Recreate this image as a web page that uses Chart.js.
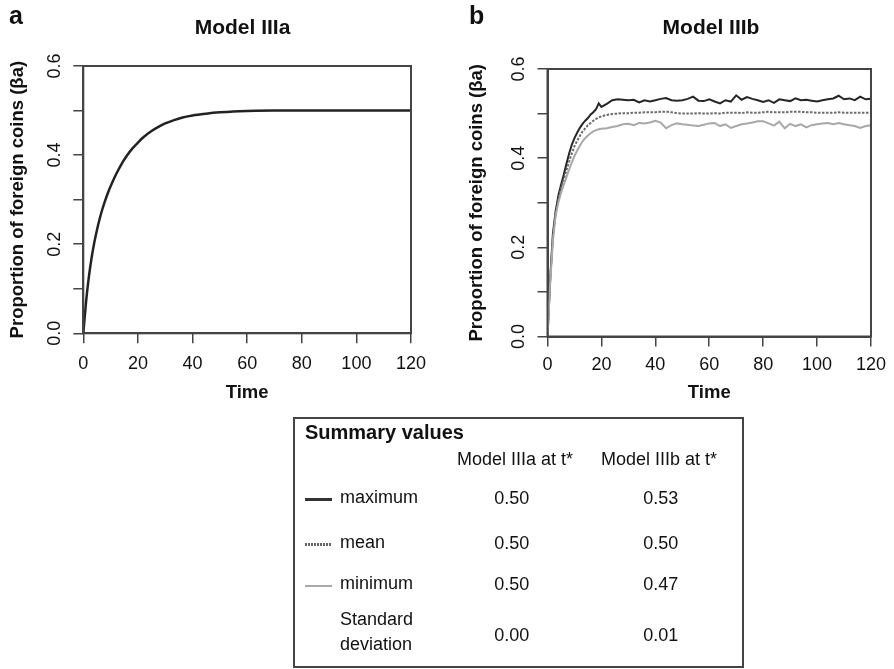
<!DOCTYPE html>
<html>
<head>
<meta charset="utf-8">
<script src="https://cdn.jsdelivr.net/npm/chart.js@4.4.1/dist/chart.umd.min.js"></script>
<style>
  html, body { margin: 0; padding: 0; background: #fff; }
  body { width: 894px; height: 669px; position: relative; overflow: hidden;
         font-family: "Liberation Sans", Arial, Helvetica, sans-serif; color: #111; }
  canvas { position: absolute; top: 0; }
  .t { position: absolute; white-space: nowrap; line-height: 1; }
  .c { transform: translateX(-50%); }
  .b { font-weight: bold; }
  #summary { position: absolute; left: 293px; top: 417px; width: 451px; height: 251px;
             box-sizing: border-box; border: 2px solid #444; }
  .key { position: absolute; left: 305px; width: 27px; }
</style>
</head>
<body>
<canvas id="panelA" width="440" height="420" style="left:0"></canvas>
<canvas id="panelB" width="454" height="420" style="left:440px"></canvas>

<div class="t b" style="left:9px;top:3px;font-size:25px">a</div>
<div class="t b" style="left:469px;top:3px;font-size:25px">b</div>
<div class="t b c" style="left:242.5px;top:16px;font-size:21px">Model IIIa</div>
<div class="t b c" style="left:711px;top:16px;font-size:21px">Model IIIb</div>

<div id="summary"></div>
<div id="summaryText"></div>

<script>
const FONT = '"Liberation Sans", Arial, Helvetica, sans-serif';

// Model IIIa: deterministic approach to equilibrium
const timeA = [0, 1, 2, 3, 4, 5, 6, 7, 8, 9, 10, 12, 14, 16, 18, 20, 22, 25, 28, 30, 33, 36,
               40, 45, 50, 55, 60, 70, 80, 90, 100, 110, 120];
const valuesA = [0, 0.07, 0.125, 0.168, 0.203, 0.232, 0.257, 0.279, 0.298, 0.315, 0.33,
                 0.357, 0.38, 0.399, 0.415, 0.428, 0.44, 0.454, 0.465, 0.471, 0.478, 0.484,
                 0.489, 0.493, 0.496, 0.498, 0.499, 0.5, 0.5, 0.5, 0.5, 0.5, 0.5];

// Model IIIb: stochastic runs, maximum / mean / minimum over replicates
const timeB = [0, 1, 2, 3, 4, 5, 6, 7, 8, 9, 10, 11, 12, 13, 14, 15, 16, 17, 18, 19, 20,
               22, 24, 26, 28, 30, 32, 34, 36, 38, 40, 42, 44, 46, 48, 50, 52, 54, 56, 58, 60,
               62, 64, 66, 68, 70, 72, 74, 76, 78, 80, 82, 84, 86, 88, 90, 92, 94, 96, 98, 100,
               102, 104, 106, 108, 110, 112, 114, 116, 118, 120];
const maxB = [0, 0.13, 0.23, 0.28, 0.315, 0.34, 0.362, 0.387, 0.41, 0.43, 0.445, 0.457, 0.468,
              0.477, 0.484, 0.49, 0.498, 0.503, 0.51, 0.523, 0.515,
              0.522, 0.530, 0.532, 0.531, 0.530, 0.531, 0.525, 0.530, 0.527, 0.530,
              0.533, 0.535, 0.530, 0.529, 0.530, 0.533, 0.538, 0.529, 0.528, 0.532,
              0.527, 0.523, 0.530, 0.527, 0.541, 0.531, 0.537, 0.533, 0.530, 0.526,
              0.530, 0.524, 0.532, 0.530, 0.528, 0.534, 0.530, 0.531, 0.529, 0.527,
              0.530, 0.532, 0.534, 0.540, 0.532, 0.534, 0.530, 0.538, 0.532, 0.533];
const meanB = [0, 0.125, 0.222, 0.275, 0.307, 0.332, 0.352, 0.372, 0.392, 0.41, 0.427, 0.439, 0.45,
               0.46, 0.467, 0.474, 0.479, 0.484, 0.488, 0.491, 0.494,
               0.497, 0.499, 0.500, 0.501, 0.501, 0.502, 0.502, 0.503, 0.503, 0.503,
               0.504, 0.504, 0.503, 0.501, 0.500, 0.500, 0.500, 0.501, 0.500, 0.500,
               0.501, 0.500, 0.502, 0.502, 0.502, 0.501, 0.503, 0.502, 0.502, 0.503,
               0.504, 0.503, 0.503, 0.503, 0.504, 0.504, 0.504, 0.503, 0.503, 0.502,
               0.502, 0.502, 0.502, 0.503, 0.502, 0.502, 0.502, 0.502, 0.502, 0.502];
const minB = [0, 0.12, 0.215, 0.27, 0.3, 0.322, 0.34, 0.357, 0.374, 0.39, 0.405, 0.417, 0.428,
              0.438, 0.445, 0.451, 0.456, 0.46, 0.463, 0.465, 0.466,
              0.467, 0.470, 0.472, 0.476, 0.477, 0.474, 0.479, 0.478, 0.480, 0.484,
              0.480, 0.467, 0.474, 0.478, 0.476, 0.475, 0.473, 0.472, 0.475, 0.478,
              0.479, 0.472, 0.476, 0.468, 0.472, 0.476, 0.478, 0.480, 0.483, 0.483,
              0.478, 0.473, 0.482, 0.467, 0.477, 0.472, 0.476, 0.469, 0.474, 0.476,
              0.478, 0.479, 0.476, 0.479, 0.476, 0.474, 0.472, 0.468, 0.472, 0.474];

// Summary table
const summaryRows = ['maximum', 'mean', 'minimum', 'Standard\ndeviation'];
const summaryHeaders = ['Model IIIa at t*', 'Model IIIb at t*'];
const summaryIIIa = [0.50, 0.50, 0.50, 0.00];
const summaryIIIb = [0.53, 0.50, 0.47, 0.01];

const toPoints = (ts, vs) => ts.map((t, i) => ({ x: t, y: vs[i] }));

// closed box around the plotting region
const frame = {
  id: 'frame',
  afterDraw(chart) {
    const { ctx, chartArea: a } = chart;
    ctx.save();
    ctx.strokeStyle = '#444';
    ctx.lineWidth = 2;
    ctx.strokeRect(a.left, a.top, a.right - a.left, a.bottom - a.top);
    ctx.restore();
  }
};

function makePanel(id, datasets, g) {
  const tickFont = { family: FONT, size: 18 };
  const titleFont = { family: FONT, size: 18.5, weight: 'bold' };
  const grid = { drawOnChartArea: false, drawTicks: true, tickLength: 10, color: '#444', lineWidth: 1.5 };
  const border = { display: true, color: '#444', width: 2 };
  return new Chart(document.getElementById(id), {
    type: 'line',
    data: { datasets },
    options: {
      responsive: false,
      animation: false,
      devicePixelRatio: 1,
      layout: { padding: { left: 0, top: g.top, right: g.right, bottom: 0 } },
      plugins: { legend: { display: false }, tooltip: { enabled: false } },
      elements: { point: { radius: 0 } },
      scales: {
        x: {
          type: 'linear', min: 0, max: 120,
          afterFit: s => { s.height = g.xH; },
          ticks: { stepSize: 20, maxRotation: 0, autoSkip: false, padding: g.xPad,
                   color: '#111', font: tickFont },
          grid, border,
          title: { display: true, text: 'Time', color: '#111', font: titleFont,
                   padding: { top: 0, bottom: 16 } }
        },
        y: {
          type: 'linear', min: 0, max: 0.6,
          afterFit: s => { s.width = g.yW; },
          ticks: { stepSize: 0.1, autoSkip: false, minRotation: 90, maxRotation: 90,
                   crossAlign: 'center', padding: 5.5, color: '#111', font: tickFont,
                   callback: v => (Math.round(v * 10) % 2 === 0 ? v.toFixed(1) : '') },
          grid, border,
          title: { display: true, text: 'Proportion of foreign coins (βa)', color: '#111',
                   font: titleFont, padding: { top: g.yTitlePad, bottom: 0 } }
        }
      }
    },
    plugins: [frame]
  });
}

makePanel('panelA', [
  { data: toPoints(timeA, valuesA), borderColor: '#222', borderWidth: 2.5,
    cubicInterpolationMode: 'monotone' }
], { top: 66, right: 29, yW: 83.3, xH: 86.7, xPad: 10, yTitlePad: 7 });

makePanel('panelB', [
  { label: 'minimum', data: toPoints(timeB, minB), borderColor: '#a8a8a8', borderWidth: 2 },
  { label: 'mean', data: toPoints(timeB, meanB), borderColor: '#6a6a6a', borderWidth: 2,
    borderDash: [2.5, 1.5] },
  { label: 'maximum', data: toPoints(timeB, maxB), borderColor: '#262626', borderWidth: 2 }
], { top: 69, right: 20, yW: 107.5, xH: 83.5, xPad: 8, yTitlePad: 26 });

// summary table text
(function buildSummary() {
  const host = document.getElementById('summaryText');
  const add = (txt, cls, style) => {
    const d = document.createElement('div');
    d.className = 't ' + cls;
    d.textContent = txt;
    d.setAttribute('style', style);
    host.appendChild(d);
    return d;
  };
  const top = (baseline, size) => (baseline - 0.8465 * size).toFixed(1);
  add('Summary values', 'b', `left:305px;top:${top(438.5, 20)}px;font-size:20px`);
  add(summaryHeaders[0], 'c', `left:515px;top:${top(465, 18)}px;font-size:18px`);
  add(summaryHeaders[1], 'c', `left:659px;top:${top(465, 18)}px;font-size:18px`);

  const labelBase = [503, 548, 589];
  summaryRows.forEach((r, i) => {
    if (i < 3) {
      add(r, '', `left:340px;top:${top(labelBase[i], 18)}px;font-size:18px`);
    } else {
      add(r, '', `left:340px;top:607px;font-size:18px;line-height:25px;white-space:pre`);
    }
  });
  const valueBase = [504, 549, 590, 641];
  summaryIIIa.forEach((v, i) =>
    add(v.toFixed(2), 'c', `left:511.7px;top:${top(valueBase[i], 18)}px;font-size:18px`));
  summaryIIIb.forEach((v, i) =>
    add(v.toFixed(2), 'c', `left:660.7px;top:${top(valueBase[i], 18)}px;font-size:18px`));

  // line keys for the three series
  const keys = [
    { y: 497.5, css: 'height:3px;background:#333' },
    { y: 543, css: 'height:3px;background:repeating-linear-gradient(90deg,#666 0 2px,#fff 2px 3px)' },
    { y: 584.5, css: 'height:2px;background:#aaa' }
  ];
  keys.forEach(k => {
    const d = document.createElement('div');
    d.className = 'key';
    d.setAttribute('style', `top:${k.y}px;${k.css}`);
    host.appendChild(d);
  });
})();
</script>
</body>
</html>
